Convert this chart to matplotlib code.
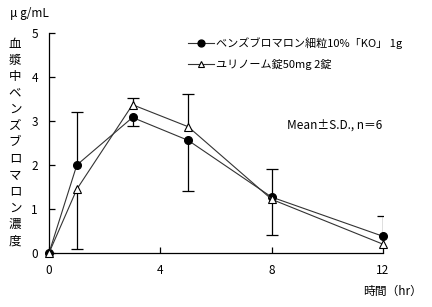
import numpy as np
import matplotlib
matplotlib.use("Agg")
from matplotlib import pyplot as plt

plt.rcParams["font.family"] = ["Noto Sans CJK JP", "DejaVu Sans"]

# time points (hr)
hours = [0, 1, 3, 5, 8, 12]

# benzbromarone fine granules 10% "KO" 1g
fine_mean = [0.0, 2.0, 3.08, 2.56, 1.27, 0.38]
fine_err_up = [np.nan, 1.2, np.nan, np.nan, 0.65, 0.47]
fine_err_lo = [np.nan, np.nan, 0.2, 1.14, np.nan, np.nan]

# Urinorm tablets 50mg x2
tab_mean = [0.0, 1.45, 3.37, 2.87, 1.22, 0.2]
tab_err_up = [np.nan, np.nan, 0.15, 0.75, np.nan, np.nan]
tab_err_lo = [np.nan, 1.35, np.nan, np.nan, 0.8, np.nan]

label_fine = "ベンズブロマロン細粒10%「KO」 1g"
label_tab = "ユリノーム錠50mg 2錠"
ylabel_chars = "血漿中ベンズブロマロン濃度"

W, H = 432, 307
fig = plt.figure(figsize=(W / 100, H / 100), dpi=100)
ax = fig.add_axes([49 / W, 1 - 253 / H, (383 - 49) / W, (253 - 33) / H])

lc = "#333333"


def half_bars(x, mean, err, sign):
    x = np.asarray(x, float)
    mean = np.asarray(mean, float)
    end = mean + sign * np.asarray(err, float)
    ok = ~np.isnan(end)
    ax.vlines(x[ok], mean[ok], end[ok], color="black", lw=0.9, zorder=2)
    ax.plot(x[ok], end[ok], ls="none", marker="_", ms=9, mew=0.9,
            color="black", zorder=2)


half_bars(hours, fine_mean, fine_err_up, 1)
half_bars(hours, fine_mean, fine_err_lo, -1)
half_bars(hours, tab_mean, tab_err_up, 1)
half_bars(hours, tab_mean, tab_err_lo, -1)

h1, = ax.plot(hours, fine_mean, color=lc, lw=0.8, marker="o", ms=5.5,
              mfc="black", mec="black", clip_on=False, zorder=3)
h2, = ax.plot(hours, tab_mean, color=lc, lw=0.8, marker="^", ms=5.5,
              mfc="white", mec="black", mew=0.8, clip_on=False, zorder=4)

ax.set_xlim(0, 12)
ax.set_ylim(0, 5)
ax.set_xticks([0, 4, 8, 12])
ax.set_yticks([0, 1, 2, 3, 4, 5])
for s in ["top", "right"]:
    ax.spines[s].set_visible(False)
for s in ["left", "bottom"]:
    ax.spines[s].set_linewidth(0.9)
ax.tick_params(direction="in", length=4, width=0.9, labelsize=8.5, pad=8)

leg = fig.legend([h1, h2], [label_fine, label_tab], loc="upper left",
                 bbox_to_anchor=(182 / W, 1 - 32 / H), frameon=False,
                 fontsize=8, handlelength=2.4, handletextpad=0.2,
                 labelspacing=0.85, borderpad=0, markerscale=0.9)

fig.text(287 / W, 1 - 125 / H, "Mean±S.D., n＝6", fontsize=8.5, va="center")
fig.text(10 / W, 1 - 14 / H, "μ g/mL", fontsize=8.5, va="center")
fig.text(422 / W, 1 - 291 / H, "時間（hr）", fontsize=8.5, va="center", ha="right")

for i, ch in enumerate(ylabel_chars):
    fig.text(15 / W, 1 - (44 + i * 16.4) / H, ch, fontsize=9,
             ha="center", va="center")

fig.savefig("out.png", dpi=100)
